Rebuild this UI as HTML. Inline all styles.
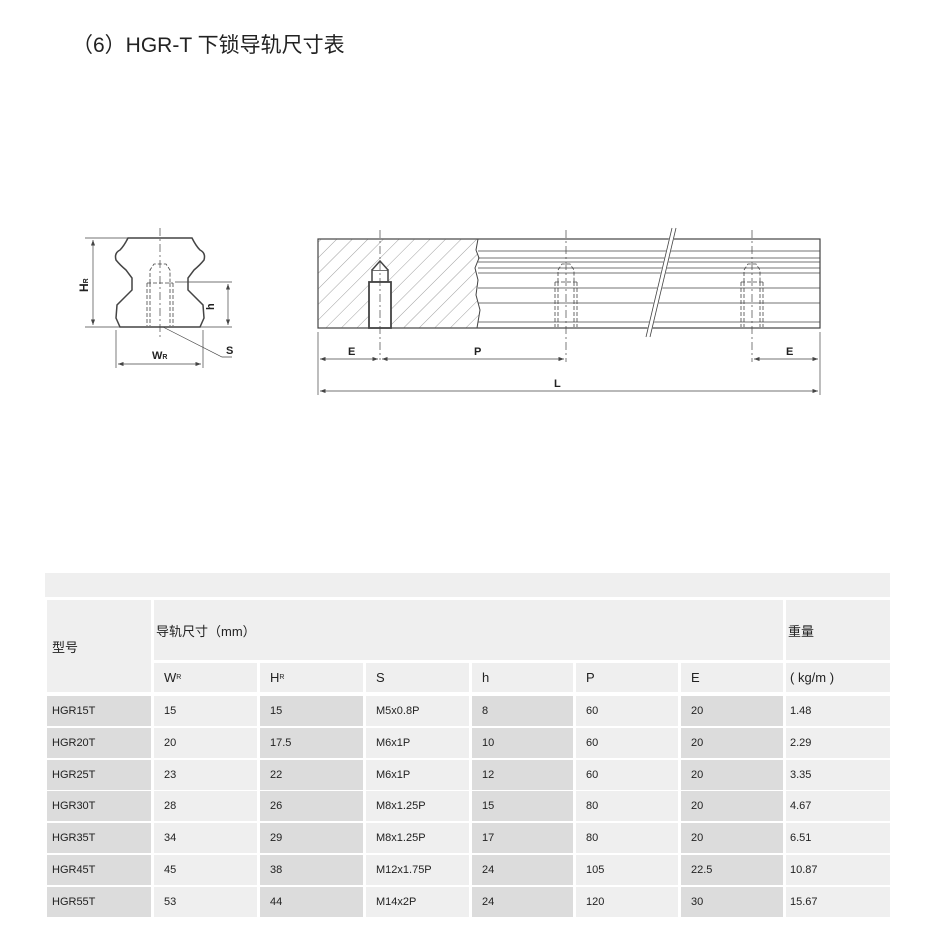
<!DOCTYPE html>
<html><head><meta charset="utf-8"><style>
body{margin:0;width:930px;height:946px;background:#fff;position:relative;overflow:hidden;font-family:"Liberation Sans","Noto Sans CJK SC",sans-serif;}
.t{position:absolute;left:72px;top:29px;font-size:21px;color:#222;letter-spacing:0px;white-space:nowrap}
.c{position:absolute;font-size:11px;color:#222;box-sizing:border-box;padding-left:10px;display:flex;align-items:center}
.l{background:#efefef}.d{background:#dcdcdc}
.h{font-size:13px}
</style></head><body>
<div class="t">（6）HGR-T 下锁导轨尺寸表</div>
<svg width="930" height="946" style="position:absolute;left:0;top:0" xmlns="http://www.w3.org/2000/svg">
<defs><pattern id="hat" width="11" height="11" patternUnits="userSpaceOnUse" patternTransform="rotate(45)"><line x1="0" y1="0" x2="0" y2="11" stroke="#888" stroke-width="0.8"/></pattern>
<marker id="a" markerWidth="8" markerHeight="6" refX="8" refY="3" orient="auto-start-reverse"><path d="M0,0 L8,3 L0,6" fill="#444"/></marker></defs>
<g stroke="#444" fill="none" stroke-width="1">
<path d="M128,238 L192,238 Q196,246 200,250 Q206,253 204,260 Q200,265 194,270 L188,278 L188,290 L203,305 L204,318 L200,327 L120,327 L116,318 L117,305 L132,290 L132,278 L126,270 Q120,265 116,260 Q114,253 120,250 Q124,246 128,238 Z" stroke-width="1.5"/>
<line x1="160" y1="228" x2="160" y2="340" stroke-dasharray="8,3,2,3" stroke-width="0.7"/>
<g stroke-dasharray="4,2" stroke-width="0.8"><path d="M150,283 L150,270 L154,264 L166,264 L170,270 L170,283"/><line x1="147" y1="283" x2="147" y2="326"/><line x1="150" y1="283" x2="150" y2="326"/><line x1="170" y1="283" x2="170" y2="326"/><line x1="173" y1="283" x2="173" y2="326"/><line x1="147" y1="283" x2="173" y2="283"/></g>
<line x1="175" y1="282" x2="232" y2="282" stroke-width="0.7"/>
<line x1="85" y1="238" x2="128" y2="238" stroke-width="0.7"/><line x1="85" y1="327" x2="232" y2="327" stroke-width="0.7"/>
<line x1="93" y1="240" x2="93" y2="325" marker-start="url(#a)" marker-end="url(#a)" stroke-width="0.7"/>
<line x1="228" y1="284" x2="228" y2="325" marker-start="url(#a)" marker-end="url(#a)" stroke-width="0.7"/>
<line x1="116" y1="330" x2="116" y2="368" stroke-width="0.7"/><line x1="203" y1="330" x2="203" y2="368" stroke-width="0.7"/>
<line x1="118" y1="364" x2="201" y2="364" marker-start="url(#a)" marker-end="url(#a)" stroke-width="0.7"/>
<path d="M163,327 L222,357 L232,357" stroke-width="0.7"/>
<rect x="318" y="239" width="502" height="89" stroke-width="1.2"/>
<path d="M318,239 L478,239 L476,250 L479,258 L475,268 L478,280 L476,295 L480,310 L477,328 L318,328 Z" fill="url(#hat)"/>
<g stroke-width="0.8">
<line x1="478" y1="251" x2="820" y2="251"/><line x1="478" y1="258" x2="820" y2="258"/><line x1="478" y1="262" x2="820" y2="262"/><line x1="478" y1="268" x2="820" y2="268"/><line x1="478" y1="273" x2="820" y2="273"/><line x1="478" y1="288" x2="820" y2="288"/><line x1="478" y1="303" x2="820" y2="303"/><line x1="478" y1="322" x2="820" y2="322"/>
</g>
<line x1="674" y1="228" x2="648" y2="337" stroke="#fff" stroke-width="5"/>
<line x1="672" y1="228" x2="646" y2="337" stroke-width="0.8"/><line x1="676" y1="228" x2="650" y2="337" stroke-width="0.8"/>
<rect x="372" y="270" width="16" height="12" fill="#fff" stroke-width="1.5"/><path d="M372,270 L380,261 L388,270" fill="#fff" stroke-width="1.5"/>
<rect x="369" y="282" width="22" height="46" fill="#fff" stroke-width="1.8"/>
<g stroke-dasharray="4,2" stroke-width="0.8">
<path d="M558,282 L558,270 L562,264 L570,264 L574,270 L574,282"/><line x1="555" y1="282" x2="577" y2="282"/><line x1="555" y1="282" x2="555" y2="327"/><line x1="558" y1="282" x2="558" y2="327"/><line x1="574" y1="282" x2="574" y2="327"/><line x1="577" y1="282" x2="577" y2="327"/>
<path d="M744,282 L744,270 L748,264 L756,264 L760,270 L760,282"/><line x1="741" y1="282" x2="763" y2="282"/><line x1="741" y1="282" x2="741" y2="327"/><line x1="744" y1="282" x2="744" y2="327"/><line x1="760" y1="282" x2="760" y2="327"/><line x1="763" y1="282" x2="763" y2="327"/>
</g>
<g stroke-dasharray="8,3,2,3" stroke-width="0.7"><line x1="380" y1="230" x2="380" y2="360"/><line x1="566" y1="230" x2="566" y2="362"/><line x1="752" y1="230" x2="752" y2="362"/></g>
<g stroke-width="0.7">
<line x1="318" y1="332" x2="318" y2="395"/><line x1="820" y1="332" x2="820" y2="395"/>
<line x1="320" y1="359" x2="378" y2="359" marker-start="url(#a)" marker-end="url(#a)"/>
<line x1="382" y1="359" x2="564" y2="359" marker-start="url(#a)" marker-end="url(#a)"/>
<line x1="754" y1="359" x2="818" y2="359" marker-start="url(#a)" marker-end="url(#a)"/>
<line x1="320" y1="391" x2="818" y2="391" marker-start="url(#a)" marker-end="url(#a)"/>
</g>
</g>
<g font-family="Liberation Sans" font-weight="bold" font-size="11" fill="#222">
<text x="88" y="292" transform="rotate(-90 88 292)" font-size="12">H<tspan font-size="7">R</tspan></text>
<text x="214" y="310" transform="rotate(-90 214 310)">h</text>
<text x="152" y="359">W<tspan font-size="7">R</tspan></text>
<text x="226" y="354">S</text>
<text x="348" y="355">E</text><text x="474" y="355">P</text><text x="786" y="355">E</text><text x="554" y="387">L</text>
</g>
</svg>
<div class="c l" style="left:45px;top:573px;width:845px;height:24px"></div>
<div class="c l h" style="left:47px;top:600px;width:104px;height:92px;padding-left:5px">型号</div>
<div class="c l h" style="left:154px;top:600px;width:629px;height:60px;padding-left:2px">导轨尺寸（mm）</div>
<div class="c l h" style="left:786px;top:600px;width:104px;height:60px;padding-left:2px">重量</div>
<div class="c l h" style="left:154px;top:663px;width:103px;height:29px">W<span style="font-size:7px">R</span></div>
<div class="c l h" style="left:260px;top:663px;width:103px;height:29px">H<span style="font-size:7px">R</span></div>
<div class="c l h" style="left:366px;top:663px;width:103px;height:29px">S</div>
<div class="c l h" style="left:472px;top:663px;width:101px;height:29px">h</div>
<div class="c l h" style="left:576px;top:663px;width:102px;height:29px">P</div>
<div class="c l h" style="left:681px;top:663px;width:102px;height:29px">E</div>
<div class="c l h" style="left:786px;top:663px;width:104px;height:29px;padding-left:4px">( kg/m )</div>
<div id="rows"></div>
<script>
var d=[["HGR15T","15","15","M5x0.8P","8","60","20","1.48"],["HGR20T","20","17.5","M6x1P","10","60","20","2.29"],["HGR25T","23","22","M6x1P","12","60","20","3.35"],["HGR30T","28","26","M8x1.25P","15","80","20","4.67"],["HGR35T","34","29","M8x1.25P","17","80","20","6.51"],["HGR45T","45","38","M12x1.75P","24","105","22.5","10.87"],["HGR55T","53","44","M14x2P","24","120","30","15.67"]];
var xs=[[47,104],[154,103],[260,103],[366,103],[472,101],[576,102],[681,102],[786,104]];
var cls=["d","l","d","l","d","l","d","l"];
var ys=[696,728,760,791,823,855,887],h="";
d.forEach(function(r,i){r.forEach(function(v,j){h+='<div class="c '+cls[j]+'" style="left:'+xs[j][0]+'px;top:'+ys[i]+'px;width:'+xs[j][1]+'px;height:30px;padding-left:'+(j==0?5:j==7?4:10)+'px">'+v+'</div>';});});
document.getElementById("rows").innerHTML=h;
</script>
</body></html>
